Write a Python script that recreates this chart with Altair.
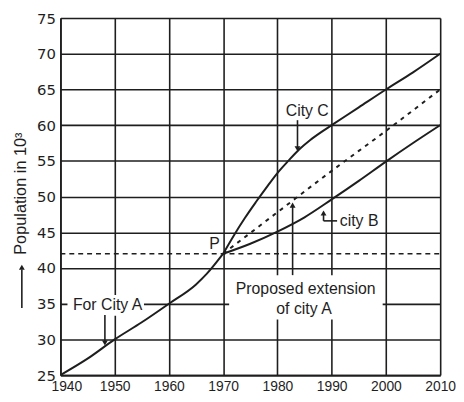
import altair as alt
import pandas as pd

# ---- data ----
years_a = [1940, 1945, 1950, 1955, 1960, 1965, 1967, 1970]
pop_a = [25, 27.3, 30, 32.4, 35, 37.7, 39.2, 42]

years_c = [1970, 1972, 1974, 1976, 1978, 1980, 1982, 1984, 1986, 1988, 1990, 1995, 2000, 2005, 2010]
pop_c = [42, 44.6, 47.0, 49.2, 51.3, 53.3, 55.0, 56.6, 57.9, 59.0, 60.0, 62.5, 65, 67.4, 70]

years_b = [1970, 1975, 1980, 1985, 1990, 1995, 2000, 2005, 2010]
pop_b = [42, 43.4, 45.1, 47.1, 49.6, 52.2, 54.9, 57.5, 60]

years_ext = [1970, 1980, 1990, 2000, 2010]
pop_ext = [42, 47.8, 53.6, 59.2, 65]

level_years = [1940, 2010]
level_pop = [42, 42]

x_ticks = [1940, 1950, 1960, 1970, 1980, 1990, 2000, 2010]
y_ticks = [25, 30, 35, 40, 45, 50, 55, 60, 65, 70, 75]

INK = "#1e1e1e"

solid = pd.DataFrame(
    {"year": years_a + years_c + years_b,
     "pop": pop_a + pop_c + pop_b,
     "series": ["A"] * len(years_a) + ["C"] * len(years_c) + ["B"] * len(years_b)}
)
ext = pd.DataFrame({"year": years_ext, "pop": pop_ext})
level = pd.DataFrame({"year": level_years, "pop": level_pop})

xs = alt.Scale(domain=[1940, 2010], nice=False, zero=False)
ys = alt.Scale(domain=[25, 75], nice=False, zero=False)

x_axis = alt.Axis(values=x_ticks, format="d", grid=True, gridColor=INK, gridWidth=1.6,
                  domainColor=INK, domainWidth=1.6, ticks=False, labelFont="Liberation Sans",
                  labelFontSize=14, labelColor=INK, labelPadding=5, labelFlush=False,
                  labelOverlap=False,
                  labelOffset={"expr": "datum.value == 1940 ? 6 : 0"}, title=None)
y_axis = alt.Axis(values=y_ticks, grid=True, gridColor=INK, gridWidth=1.6,
                  domainColor=INK, domainWidth=1.6, ticks=False, labelFont="DejaVu Sans",
                  labelFontSize=15, labelColor=INK, labelPadding=5, labelOverlap=False,
                  labelFlush=False,
                  title="Population in 10³", titleFont="Liberation Sans", titleFontSize=16.5,
                  titleFontWeight="normal", titleColor=INK, titleAngle=270,
                  titleX=-40, titleY=177, titleAlign="center", titleBaseline="middle")

X = alt.X("year:Q", scale=xs, axis=x_axis)
Y = alt.Y("pop:Q", scale=ys, axis=y_axis)

curves = alt.Chart(solid).mark_line(color=INK, strokeWidth=2, interpolate="monotone").encode(
    x=X, y=Y, detail="series:N")

ext_line = alt.Chart(ext).mark_line(color=INK, strokeWidth=2, strokeDash=[4, 5],
                                    interpolate="monotone").encode(x=X, y=Y)
level_line = alt.Chart(level).mark_line(color=INK, strokeWidth=1.6, strokeDash=[5, 4]).encode(
    x=X, y=Y)

# white boxes behind annotation text (break the grid)
boxes = pd.DataFrame({"year": [1971.1, 1941.3], "year2": [1999.4, 1955.4],
                      "pop": [32.8, 33.3], "pop2": [39.0, 36.2]})
box_layer = alt.Chart(boxes).mark_rect(color="white").encode(
    x=X, x2="year2:Q", y=Y, y2="pop2:Q")

# arrow shafts
shafts = pd.DataFrame({"year": [1983.7, 1948.2, 1982.8, 1988.5, 1988.5],
                       "year2": [1983.7, 1948.2, 1982.8, 1988.5, 1991.0],
                       "pop": [60.7, 33.4, 39.0, 46.6, 46.6],
                       "pop2": [56.9, 29.7, 48.6, 47.5, 46.6]})
shaft_layer = alt.Chart(shafts).mark_rule(color=INK, strokeWidth=1.6).encode(
    x=X, x2="year2:Q", y=Y, y2="pop2:Q")

heads = pd.DataFrame({"year": [1983.7, 1948.2, 1982.8, 1988.5],
                      "pop": [56.7, 29.5, 48.8, 47.7],
                      "shape": ["triangle-down", "triangle-down", "triangle-up", "triangle-up"]})
head_layer = alt.Chart(heads).mark_point(filled=True, color=INK, opacity=1, size=35).encode(
    x=X, y=Y, shape=alt.Shape("shape:N", scale=None))

# arrow in front of the y-axis title
ytitle_arrow = pd.DataFrame({"pop": [34.4], "pop2": [39.8]})
yarrow_shaft = alt.Chart(ytitle_arrow).mark_rule(color=INK, strokeWidth=1.6).encode(
    x=alt.value(-39), y=Y, y2="pop2:Q")
yarrow_head = alt.Chart(pd.DataFrame({"pop": [40.1]})).mark_point(
    filled=True, color=INK, opacity=1, size=35, shape="triangle-up").encode(
    x=alt.value(-39), y=Y)

# annotation texts
center_txt = pd.DataFrame({
    "year": [1985.5, 1968.4, 1985.2, 1984.9],
    "pop": [62.0, 43.4, 37.0, 34.2],
    "label": ["City C", "P", "Proposed extension", "of city A"]})
left_txt = pd.DataFrame({"year": [1991.5, 1942.3], "pop": [46.6, 34.8],
                         "label": ["city B", "For City A"]})

ctext = alt.Chart(center_txt).mark_text(font="Liberation Sans", fontSize=16, color=INK,
                                        align="center", baseline="middle").encode(
    x=X, y=Y, text="label:N")
ltext = alt.Chart(left_txt).mark_text(font="Liberation Sans", fontSize=16, color=INK,
                                      align="left", baseline="middle").encode(
    x=X, y=Y, text="label:N")

chart = alt.layer(
    curves, level_line, ext_line, box_layer, shaft_layer, head_layer,
    yarrow_shaft, yarrow_head, ctext, ltext
).properties(
    width=384, height=361,
    padding={"left": 5, "top": 1, "right": 0, "bottom": 5},
).configure_view(stroke=None).configure(background="white")

chart.save("out.html", embed_options={"renderer": "svg", "actions": False})
